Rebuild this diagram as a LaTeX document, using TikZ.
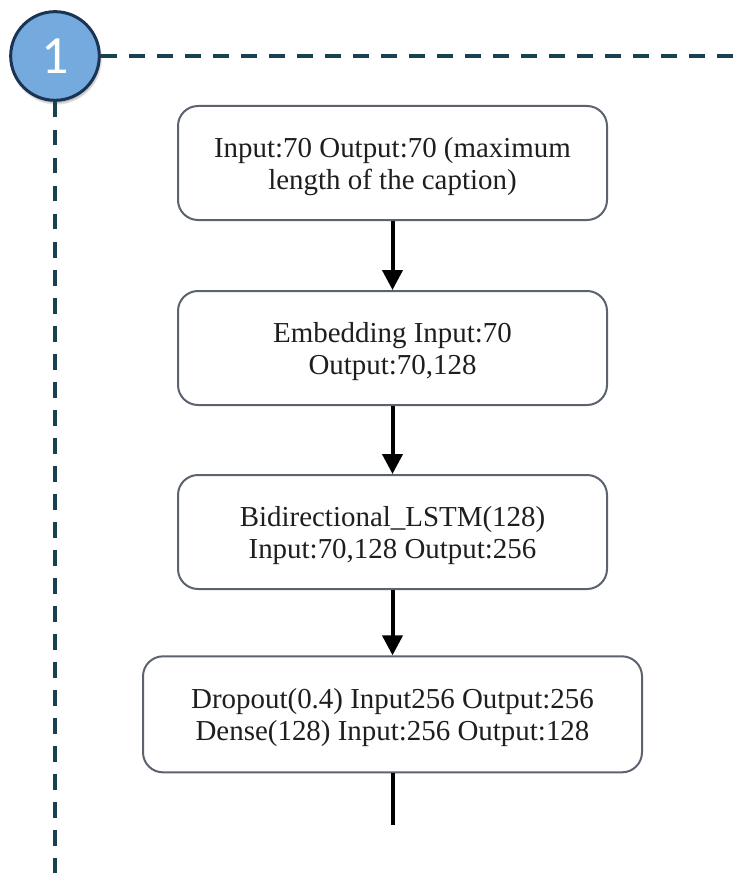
\documentclass[tikz,border=0pt]{standalone}
\usepackage{fontspec}
\setmainfont{Liberation Serif}
\newfontfamily\badgefont{Carlito}
\usepackage{tikz}
\usetikzlibrary{arrows.meta,shapes,positioning,shadows}
\usepackage{xcolor}
\definecolor{lsblue}{RGB}{116,170,222}
\definecolor{lsnavy}{RGB}{28,52,84}
\definecolor{lsteal}{RGB}{24,66,82}
\definecolor{lsgray}{RGB}{92,98,112}
\definecolor{lstext}{RGB}{30,30,30}
\tikzstyle{arrow} = [line width=0.12cm,-{Triangle[length=0.6cm,width=0.6cm]},color=black]
\tikzstyle{layer} = [rectangle, rounded corners=0.6cm, minimum width=12.87cm, minimum height=3.42cm, text centered, align=center, text depth=0pt, draw=lsgray, fill=white, line width=0.06cm, text=lstext, font=\fontsize{24.7}{27.3}\selectfont]
\tikzstyle{badge} = [circle, minimum size=2.66cm, draw=lsnavy, fill=lsblue, line width=0.09cm, text=white, font=\badgefont\fontsize{46}{46}\selectfont, circular drop shadow={shadow xshift=0.03cm, shadow yshift=-0.08cm, shadow scale=1.04}]
\tikzstyle{frame} = [line width=0.11cm, color=lsteal, dash pattern=on 0.47cm off 0.37cm]

\begin{document}
\begin{tikzpicture}
\useasboundingbox (0,0) rectangle (22.2,-26.19);

% Step badge and dashed frame
\node (badge) [badge] at (1.65,-1.68) {1};
\coordinate (frameright) at (22.3,-1.68);
\coordinate (framebottom) at (1.65,-26.3);
\draw[frame] (badge) -- (frameright);
\draw[frame] (badge) -- (framebottom);

% Layers
\node (input) [layer] at (11.775,-4.89) {Input:70 Output:70 (maximum\\length of the caption)};
\node (embed) [layer, below of=input, node distance=5.55cm] {Embedding Input:70\\Output:70,128};
\node (bilstm) [layer, below of=embed, node distance=5.52cm] {Bidirectional\_LSTM(128)\\Input:70,128 Output:256};
\node (dense) [layer, below of=bilstm, node distance=5.47cm, minimum width=14.97cm, minimum height=3.48cm] {Dropout(0.4) Input256 Output:256\\Dense(128) Input:256 Output:128};
\coordinate (tail) at (11.775,-24.75);

% Arrows
\draw[arrow] (input) -- (embed);
\draw[arrow] (embed) -- (bilstm);
\draw[arrow] (bilstm) -- (dense);
\draw[arrow, -] (dense) -- (tail);
\end{tikzpicture}
\end{document}
